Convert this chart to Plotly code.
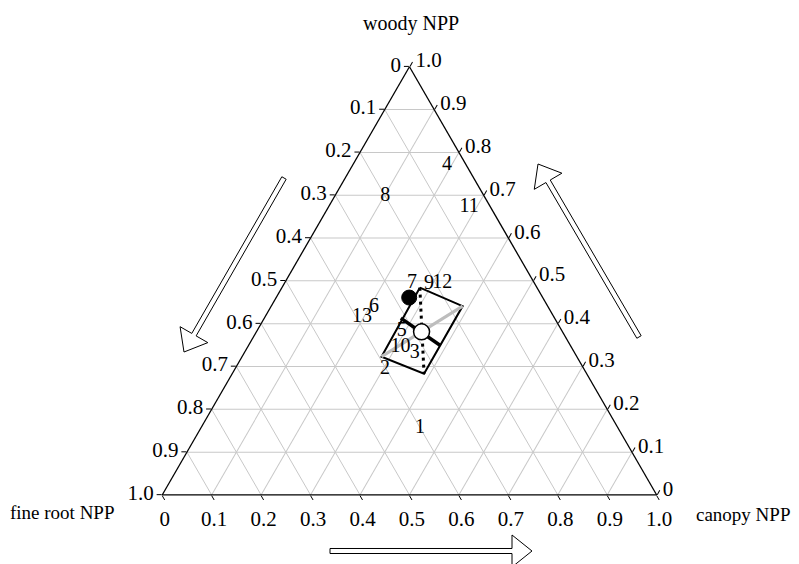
import math
import plotly.graph_objects as go

# ---------------- data (ternary fractions: woody, fine root, canopy) ----------------
label_names = ['1', '2', '3', '4', '5', '6', '7', '8', '9', '10', '11', '12', '13']
label_woody = [0.156, 0.294, 0.331, 0.771, 0.383, 0.439, 0.496, 0.698, 0.494, 0.346, 0.672, 0.495, 0.416]
label_fineroot = [0.400, 0.403, 0.324, 0.039, 0.324, 0.352, 0.247, 0.200, 0.214, 0.345, 0.043, 0.186, 0.388]
label_canopy = [0.443, 0.304, 0.345, 0.191, 0.293, 0.209, 0.257, 0.102, 0.293, 0.309, 0.284, 0.319, 0.196]

filled_woody = [0.461]
filled_fineroot = [0.270]
filled_canopy = [0.269]

open_woody = [0.381]
open_fineroot = [0.285]
open_canopy = [0.334]

# envelope box: TL, TR, BR, BL, TL
box_woody = [0.484, 0.441, 0.283, 0.323, 0.484]
box_fineroot = [0.237, 0.172, 0.329, 0.395, 0.237]
box_canopy = [0.279, 0.387, 0.388, 0.282, 0.279]

# grey diagonal (BL -> TR)
grey_woody = [0.323, 0.441]
grey_fineroot = [0.395, 0.172]
grey_canopy = [0.282, 0.387]

# dotted diagonal (TL -> BR)
dot_woody = [0.484, 0.283]
dot_fineroot = [0.237, 0.329]
dot_canopy = [0.279, 0.388]

# thick black segment through the open circle
thick_woody = [0.413, 0.349]
thick_fineroot = [0.311, 0.263]
thick_canopy = [0.276, 0.388]

tick_vals = [0.0, 0.1, 0.2, 0.3, 0.4, 0.5, 0.6, 0.7, 0.8, 0.9, 1.0]

FONT = "Liberation Serif, Times New Roman, serif"
# page body has an 8px margin: the figure is sized to fit the window and
# reference pixel positions are shifted by OFF
OFF = 8
W, H = 799 - OFF, 564 - OFF


def px(x):
    return (x - OFF) / W


def py(y):
    return 1 - (y - OFF) / H


def fmt(v):
    v = round(v, 1)
    if v == 0:
        return "0"
    return "%.1f" % v


tick_text_rev = [fmt(1 - v) for v in tick_vals]

fig = go.Figure()

fig.add_trace(go.Scatterternary(
    a=box_woody, b=box_fineroot, c=box_canopy, mode='lines',
    line=dict(color='black', width=2), hoverinfo='skip'))
fig.add_trace(go.Scatterternary(
    a=grey_woody, b=grey_fineroot, c=grey_canopy, mode='lines',
    line=dict(color='#bdbdbd', width=3), hoverinfo='skip'))
fig.add_trace(go.Scatterternary(
    a=dot_woody, b=dot_fineroot, c=dot_canopy, mode='lines',
    line=dict(color='black', width=3, dash='3px,4px'), hoverinfo='skip'))
fig.add_trace(go.Scatterternary(
    a=thick_woody, b=thick_fineroot, c=thick_canopy, mode='lines',
    line=dict(color='black', width=3.5), hoverinfo='skip'))
fig.add_trace(go.Scatterternary(
    a=filled_woody, b=filled_fineroot, c=filled_canopy, mode='markers',
    marker=dict(size=15, color='black', line=dict(color='black', width=1)), hoverinfo='skip'))
fig.add_trace(go.Scatterternary(
    a=open_woody, b=open_fineroot, c=open_canopy, mode='markers',
    marker=dict(size=16, color='white', line=dict(color='black', width=1.5)), hoverinfo='skip'))
fig.add_trace(go.Scatterternary(
    a=label_woody, b=label_fineroot, c=label_canopy, mode='text',
    text=label_names, textposition='middle center',
    textfont=dict(family=FONT, size=20, color='black'), hoverinfo='skip'))


def axis_cfg():
    return dict(
        tickmode='array', tickvals=tick_vals, ticktext=tick_text_rev,
        showline=True, linecolor='black', linewidth=1.3,
        showgrid=True, gridcolor='#c8c8c8', gridwidth=1,
        ticks='outside', ticklen=5, tickcolor='black', tickwidth=1,
        tickfont=dict(family=FONT, size=21, color='black'),
        title=dict(text=''), min=0,
    )


fig.update_layout(
    width=W, height=H,
    margin=dict(l=0, r=0, t=0, b=0),
    paper_bgcolor='white',
    showlegend=False,
    font=dict(family=FONT, size=21, color='black'),
    ternary=dict(
        domain=dict(x=[px(162.2), px(656.7)], y=[py(495), py(66.7)]),
        bgcolor='white', sum=1,
        aaxis=axis_cfg(), baxis=axis_cfg(), caxis=axis_cfg(),
    ),
)


# hollow arrows (decorations), defined in reference pixel space
def arrow_path(x0, y0, x1, y1, shaft=2.5, head_len=20, head_half=16):
    dx, dy = x1 - x0, y1 - y0
    L = math.hypot(dx, dy)
    ux, uy = dx / L, dy / L
    nx, ny = -uy, ux
    bx, by = x1 - ux * head_len, y1 - uy * head_len
    pts = [
        (x0 + nx * shaft, y0 + ny * shaft),
        (bx + nx * shaft, by + ny * shaft),
        (bx + nx * head_half, by + ny * head_half),
        (x1, y1),
        (bx - nx * head_half, by - ny * head_half),
        (bx - nx * shaft, by - ny * shaft),
        (x0 - nx * shaft, y0 - ny * shaft),
    ]
    p = ["%s%.5f,%.5f" % ("M" if i == 0 else "L", px(qx), py(qy)) for i, (qx, qy) in enumerate(pts)]
    return " ".join(p) + " Z"


arrows = [
    (284, 178, 184, 352),
    (639, 337, 538, 164),
    (330, 551, 532, 551),
]
for x0, y0, x1, y1 in arrows:
    fig.add_shape(type='path', xref='paper', yref='paper',
                  path=arrow_path(x0, y0, x1, y1),
                  line=dict(color='black', width=1), fillcolor='white')

# axis titles
fig.add_annotation(x=px(411), y=py(23), xref='paper', yref='paper', text='woody NPP',
                   showarrow=False, xanchor='center', yanchor='middle',
                   font=dict(family=FONT, size=20, color='black'))
fig.add_annotation(x=px(117), y=py(512), xref='paper', yref='paper', text='fine root NPP',
                   showarrow=False, xanchor='right', yanchor='middle',
                   font=dict(family=FONT, size=19, color='black'))
fig.add_annotation(x=px(694), y=py(514), xref='paper', yref='paper', text='canopy NPP',
                   showarrow=False, xanchor='left', yanchor='middle',
                   font=dict(family=FONT, size=19, color='black'))

fig.write_html("out.html")
